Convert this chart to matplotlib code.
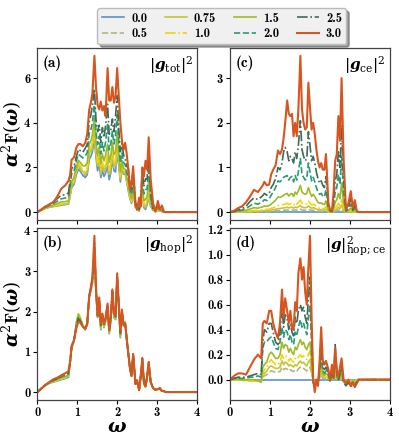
import matplotlib
matplotlib.use("Agg")
import matplotlib.pyplot as plt

plt.rcParams['font.family'] = 'cmb10'
plt.rcParams['mathtext.fontset'] = 'custom'
plt.rcParams['mathtext.rm'] = 'DejaVu Serif'
plt.rcParams['mathtext.bf'] = 'cmb10'
plt.rcParams['mathtext.it'] = 'DejaVu Serif:italic:bold'
plt.rcParams['mathtext.bfit'] = 'DejaVu Serif:italic:bold'
plt.rcParams['axes.unicode_minus'] = False

# grille en omega (commune aux 4 panneaux)
omega = [0.0, 0.1, 0.2, 0.3, 0.4, 0.5, 0.6, 0.7, 0.78, 0.82, 0.86, 0.92, 0.98,
         1.03, 1.08, 1.14, 1.2, 1.25, 1.3, 1.34, 1.38, 1.43, 1.47, 1.51, 1.55, 1.59,
         1.63, 1.67, 1.71, 1.76, 1.8, 1.84, 1.88, 1.92, 1.96, 2.0, 2.04, 2.08, 2.12,
         2.16, 2.2, 2.24, 2.28, 2.32, 2.36, 2.4, 2.46, 2.5, 2.55, 2.59, 2.63, 2.67,
         2.71, 2.75, 2.79, 2.84, 2.9, 2.96, 3.02, 3.07, 3.12, 3.17, 3.22, 3.3, 4.0]

lam_labels = ['0.0', '0.5', '0.75', '1.0', '1.5', '2.0', '2.5', '3.0']

# (a) |g_tot|^2
tot_00 = [0, 0.09, 0.17, 0.22, 0.25, 0.28, 0.31, 0.34, 0.37, 0.7, 1.1, 1.25, 1.7,
          1.92, 1.82, 1.65, 1.55, 1.68, 2.35, 2.5, 2.7, 3.3, 2.45, 1.85, 2.2, 1.55,
          1.85, 1.6, 1.75, 2.05, 1.45, 1.75, 2.4, 1.85, 1.8, 2.7, 2.1, 1.35, 1.95,
          1.7, 1.75, 1.35, 0.95, 0.6, 0.4, 0.9, 0.2, 0.25, 0.05, 0.4, 0.75, 0.2,
          0.12, 0.35, 0.65, 0.25, 0.1, 0.05, 0.07, 0.08, 0.03, 0.02, 0.0, 0.0, 0.0]
tot_05 = [0, 0.09, 0.17, 0.22, 0.26, 0.29, 0.33, 0.36, 0.38, 0.73, 1.15, 1.32, 1.78,
          2.02, 1.91, 1.74, 1.65, 1.78, 2.5, 2.64, 2.86, 3.49, 2.58, 1.99, 2.34, 1.68,
          1.99, 1.74, 1.91, 2.24, 1.61, 1.91, 2.55, 1.99, 1.97, 2.88, 2.21, 1.42, 1.99,
          1.73, 1.77, 1.37, 1.02, 0.63, 0.43, 0.94, 0.22, 0.26, 0.06, 0.41, 0.82, 0.23,
          0.18, 0.4, 0.74, 0.28, 0.09, 0.06, 0.07, 0.08, 0.03, 0.02, 0.0, 0.0, 0.0]
tot_075 = [0, 0.09, 0.17, 0.23, 0.27, 0.3, 0.34, 0.37, 0.41, 0.77, 1.2, 1.38, 1.86,
           2.11, 1.99, 1.81, 1.72, 1.86, 2.6, 2.75, 2.98, 3.64, 2.69, 2.09, 2.46, 1.77,
           2.11, 1.84, 2.03, 2.39, 1.72, 2.03, 2.66, 2.1, 2.11, 3.03, 2.29, 1.47, 2.04,
           1.76, 1.79, 1.4, 1.07, 0.67, 0.46, 1.0, 0.22, 0.27, 0.06, 0.42, 0.88, 0.29,
           0.24, 0.46, 0.85, 0.3, 0.09, 0.06, 0.08, 0.08, 0.03, 0.02, 0.0, 0.0, 0.0]
tot_10 = [0, 0.09, 0.18, 0.24, 0.28, 0.32, 0.37, 0.4, 0.43, 0.81, 1.26, 1.44, 1.95,
          2.21, 2.08, 1.89, 1.82, 1.98, 2.73, 2.88, 3.13, 3.83, 2.82, 2.23, 2.6, 1.9,
          2.26, 1.98, 2.19, 2.57, 1.87, 2.17, 2.81, 2.25, 2.29, 3.21, 2.4, 1.57, 2.11,
          1.82, 1.82, 1.45, 1.14, 0.71, 0.5, 1.07, 0.24, 0.28, 0.07, 0.44, 0.96, 0.35,
          0.33, 0.52, 1.01, 0.34, 0.08, 0.06, 0.09, 0.09, 0.03, 0.01, 0.0, 0.0, 0.0]
tot_15 = [0, 0.1, 0.19, 0.26, 0.32, 0.38, 0.46, 0.47, 0.51, 0.94, 1.38, 1.55, 2.05,
          2.32, 2.22, 2.08, 2.07, 2.22, 3.03, 3.18, 3.46, 4.19, 3.1, 2.53, 2.92, 2.17,
          2.61, 2.3, 2.56, 3.04, 2.23, 2.53, 3.14, 2.58, 2.68, 3.57, 2.66, 1.8, 2.31,
          1.96, 1.92, 1.56, 1.3, 0.83, 0.6, 1.23, 0.28, 0.29, 0.09, 0.48, 1.14, 0.52,
          0.56, 0.7, 1.4, 0.45, 0.08, 0.08, 0.13, 0.1, 0.05, 0.02, 0.0, 0.0, 0.0]
tot_20 = [0, 0.11, 0.22, 0.3, 0.38, 0.49, 0.6, 0.63, 0.69, 1.22, 1.71, 1.85, 2.3,
          2.59, 2.52, 2.43, 2.51, 2.67, 3.52, 3.68, 4.0, 4.8, 3.59, 3.03, 3.4, 2.61,
          3.12, 2.74, 3.14, 3.93, 2.79, 3.06, 3.62, 3.05, 3.47, 4.36, 3.17, 2.21, 2.65,
          2.22, 2.13, 1.78, 1.59, 1.03, 0.79, 1.51, 0.34, 0.3, 0.11, 0.56, 1.47, 0.82,
          0.99, 1.05, 2.06, 0.68, 0.08, 0.12, 0.21, 0.11, 0.09, 0.02, 0.0, 0.0, 0.0]
tot_25 = [0, 0.12, 0.25, 0.34, 0.45, 0.61, 0.76, 0.78, 0.86, 1.41, 1.96, 2.06, 2.5,
          2.82, 2.75, 2.68, 2.86, 3.03, 4.07, 4.35, 4.79, 5.53, 4.13, 3.6, 3.9, 3.13,
          3.79, 3.34, 3.89, 4.83, 3.49, 3.67, 4.17, 3.6, 4.33, 5.22, 3.74, 2.71, 3.08,
          2.56, 2.41, 2.05, 1.95, 1.3, 1.03, 1.85, 0.4, 0.32, 0.15, 0.67, 1.82, 1.15,
          1.5, 1.46, 2.6, 0.98, 0.08, 0.16, 0.32, 0.13, 0.15, 0.03, 0.0, 0.0, 0.0]
tot_30 = [0, 0.12, 0.25, 0.35, 0.45, 0.7, 1.05, 1.2, 1.4, 1.65, 2.35, 2.45, 2.9,
          3.05, 3.05, 2.95, 3.1, 3.5, 4.6, 4.9, 5.3, 7.0, 5.6, 4.8, 4.6, 4.95,
          4.55, 4.75, 4.3, 6.45, 5.0, 5.0, 5.6, 4.9, 5.2, 6.45, 5.2, 4.0, 3.2,
          2.8, 3.1, 2.6, 1.9, 1.0, 1.3, 2.05, 0.3, 0.1, 0.65, 0.25, 2.0, 1.6,
          2.3, 1.9, 3.35, 1.45, 0.4, 0.02, 0.5, 0.1, 0.3, 0.02, 0.0, 0.0, 0.0]

# (b) |g_hop|^2
hop_00 = [0, 0.09, 0.17, 0.22, 0.25, 0.28, 0.31, 0.34, 0.37, 0.7, 1.1, 1.25, 1.7,
          1.92, 1.82, 1.65, 1.55, 1.68, 2.35, 2.5, 2.7, 3.3, 2.45, 1.85, 2.2, 1.55,
          1.85, 1.6, 1.75, 2.05, 1.45, 1.75, 2.4, 1.85, 1.8, 2.7, 2.1, 1.35, 1.95,
          1.7, 1.75, 1.35, 0.95, 0.6, 0.4, 0.9, 0.2, 0.25, 0.05, 0.4, 0.75, 0.2,
          0.12, 0.35, 0.65, 0.25, 0.1, 0.05, 0.07, 0.08, 0.03, 0.02, 0.0, 0.0, 0.0]
hop_05 = [0, 0.09, 0.17, 0.22, 0.26, 0.29, 0.32, 0.35, 0.38, 0.7, 1.1, 1.26, 1.7,
          1.93, 1.82, 1.65, 1.55, 1.68, 2.36, 2.52, 2.72, 3.35, 2.47, 1.86, 2.22, 1.57,
          1.86, 1.62, 1.77, 2.07, 1.47, 1.77, 2.42, 1.87, 1.82, 2.73, 2.12, 1.37, 1.96,
          1.7, 1.74, 1.34, 0.95, 0.6, 0.4, 0.9, 0.2, 0.26, 0.05, 0.4, 0.76, 0.2,
          0.13, 0.36, 0.66, 0.25, 0.1, 0.05, 0.07, 0.08, 0.03, 0.02, 0.0, 0.0, 0.0]
hop_075 = [0, 0.09, 0.17, 0.23, 0.26, 0.29, 0.33, 0.36, 0.39, 0.71, 1.11, 1.27, 1.72,
           1.95, 1.83, 1.65, 1.55, 1.68, 2.36, 2.53, 2.74, 3.4, 2.48, 1.86, 2.24, 1.58,
           1.87, 1.63, 1.78, 2.09, 1.48, 1.78, 2.44, 1.88, 1.83, 2.76, 2.13, 1.38, 1.97,
           1.69, 1.74, 1.33, 0.95, 0.6, 0.4, 0.91, 0.2, 0.26, 0.05, 0.4, 0.77, 0.21,
           0.13, 0.37, 0.67, 0.25, 0.1, 0.05, 0.07, 0.08, 0.03, 0.02, 0.0, 0.0, 0.0]
hop_10 = [0, 0.09, 0.17, 0.23, 0.27, 0.3, 0.34, 0.37, 0.4, 0.71, 1.12, 1.28, 1.74,
          1.97, 1.84, 1.65, 1.55, 1.69, 2.37, 2.54, 2.76, 3.45, 2.5, 1.87, 2.25, 1.6,
          1.88, 1.64, 1.79, 2.1, 1.49, 1.79, 2.46, 1.9, 1.84, 2.78, 2.14, 1.4, 1.98,
          1.69, 1.73, 1.33, 0.95, 0.6, 0.4, 0.92, 0.2, 0.27, 0.05, 0.4, 0.78, 0.21,
          0.13, 0.37, 0.68, 0.25, 0.1, 0.05, 0.07, 0.09, 0.03, 0.02, 0.0, 0.0, 0.0]
hop_15 = [0, 0.09, 0.17, 0.23, 0.28, 0.31, 0.36, 0.39, 0.42, 0.72, 1.12, 1.28, 1.7,
          1.92, 1.8, 1.64, 1.56, 1.69, 2.38, 2.55, 2.78, 3.5, 2.52, 1.88, 2.28, 1.62,
          1.9, 1.66, 1.8, 2.12, 1.5, 1.81, 2.48, 1.92, 1.85, 2.82, 2.16, 1.42, 2.0,
          1.68, 1.72, 1.32, 0.95, 0.6, 0.4, 0.93, 0.2, 0.28, 0.05, 0.4, 0.8, 0.22,
          0.14, 0.38, 0.7, 0.25, 0.1, 0.05, 0.07, 0.09, 0.03, 0.02, 0.0, 0.0, 0.0]
hop_20 = [0, 0.09, 0.18, 0.24, 0.29, 0.33, 0.38, 0.42, 0.45, 0.73, 1.13, 1.29, 1.67,
          1.87, 1.77, 1.63, 1.57, 1.69, 2.38, 2.56, 2.8, 3.6, 2.55, 1.89, 2.3, 1.65,
          1.92, 1.67, 1.82, 2.15, 1.52, 1.83, 2.5, 1.94, 1.87, 2.86, 2.17, 1.45, 2.02,
          1.67, 1.71, 1.31, 0.95, 0.6, 0.4, 0.94, 0.2, 0.28, 0.05, 0.4, 0.82, 0.23,
          0.14, 0.39, 0.72, 0.25, 0.1, 0.06, 0.08, 0.09, 0.03, 0.03, 0.0, 0.0, 0.0]
hop_25 = [0, 0.09, 0.18, 0.24, 0.3, 0.34, 0.4, 0.45, 0.48, 0.74, 1.14, 1.3, 1.63,
          1.82, 1.75, 1.63, 1.58, 1.7, 2.39, 2.58, 2.82, 3.7, 2.58, 1.9, 2.32, 1.68,
          1.94, 1.69, 1.84, 2.18, 1.54, 1.84, 2.52, 1.95, 1.88, 2.9, 2.19, 1.48, 2.04,
          1.66, 1.7, 1.3, 0.95, 0.6, 0.4, 0.95, 0.2, 0.29, 0.05, 0.4, 0.84, 0.24,
          0.15, 0.4, 0.74, 0.25, 0.1, 0.06, 0.08, 0.1, 0.03, 0.03, 0.0, 0.0, 0.0]
hop_30 = [0, 0.09, 0.18, 0.25, 0.32, 0.36, 0.42, 0.47, 0.52, 0.75, 1.15, 1.3, 1.6,
          1.75, 1.72, 1.62, 1.58, 1.7, 2.4, 2.6, 2.85, 3.88, 2.6, 1.9, 2.35, 1.7,
          1.95, 1.7, 1.85, 2.2, 1.55, 1.85, 2.55, 1.95, 1.9, 2.95, 2.2, 1.5, 2.05,
          1.65, 1.7, 1.3, 0.95, 0.6, 0.4, 0.95, 0.2, 0.3, 0.05, 0.4, 0.85, 0.25,
          0.15, 0.4, 0.75, 0.25, 0.1, 0.06, 0.08, 0.1, 0.03, 0.03, 0.0, 0.0, 0.0]

# (c) |g_ce|^2
ce_00 = [0.0] * len(omega)
ce_05 = [0, 0, 0, 0.0, 0.005, 0.007, 0.01, 0.01, 0.012, 0.013, 0.015, 0.015, 0.018,
         0.02, 0.025, 0.03, 0.035, 0.035, 0.04, 0.042, 0.045, 0.05, 0.042, 0.047, 0.05, 0.04,
         0.052, 0.045, 0.055, 0.068, 0.05, 0.047, 0.045, 0.047, 0.062, 0.05, 0.04, 0.045, 0.04,
         0.032, 0.025, 0.022, 0.025, 0.02, 0.02, 0.03, 0.005, 0.0, 0.0, 0.01, 0.025, 0.032,
         0.05, 0.035, 0.07, 0.025, 0.0, 0.005, 0.01, 0.0, 0.005, 0.0, 0, 0, 0]
ce_075 = [0, 0, 0.0, 0.005, 0.01, 0.015, 0.02, 0.02, 0.03, 0.03, 0.035, 0.035, 0.04,
          0.045, 0.055, 0.065, 0.08, 0.08, 0.09, 0.095, 0.1, 0.11, 0.095, 0.105, 0.11, 0.09,
          0.115, 0.1, 0.12, 0.15, 0.11, 0.105, 0.1, 0.105, 0.14, 0.11, 0.09, 0.1, 0.09,
          0.07, 0.055, 0.05, 0.055, 0.045, 0.045, 0.065, 0.01, 0.005, 0.0, 0.02, 0.055, 0.07,
          0.11, 0.08, 0.16, 0.055, 0.0, 0.01, 0.02, 0.005, 0.01, 0.0, 0, 0, 0]
ce_10 = [0, 0.0, 0.005, 0.01, 0.015, 0.03, 0.04, 0.04, 0.05, 0.05, 0.06, 0.06, 0.07,
         0.08, 0.1, 0.12, 0.15, 0.15, 0.16, 0.17, 0.18, 0.2, 0.17, 0.19, 0.2, 0.16,
         0.21, 0.18, 0.22, 0.27, 0.2, 0.19, 0.18, 0.19, 0.25, 0.2, 0.16, 0.18, 0.16,
         0.13, 0.1, 0.09, 0.1, 0.08, 0.08, 0.12, 0.02, 0.01, 0.0, 0.04, 0.1, 0.13,
         0.2, 0.14, 0.3, 0.1, 0.0, 0.02, 0.04, 0.01, 0.02, 0.0, 0, 0, 0]
ce_15 = [0, 0.005, 0.015, 0.025, 0.04, 0.07, 0.1, 0.09, 0.11, 0.12, 0.14, 0.13, 0.15,
         0.18, 0.22, 0.27, 0.34, 0.33, 0.35, 0.38, 0.4, 0.42, 0.36, 0.4, 0.42, 0.35,
         0.45, 0.4, 0.48, 0.6, 0.45, 0.42, 0.4, 0.42, 0.55, 0.45, 0.35, 0.4, 0.35,
         0.28, 0.22, 0.2, 0.21, 0.18, 0.17, 0.25, 0.05, 0.015, 0.005, 0.08, 0.22, 0.28,
         0.42, 0.3, 0.65, 0.22, 0.01, 0.04, 0.09, 0.02, 0.05, 0.005, 0, 0, 0]
ce_20 = [0, 0.01, 0.03, 0.05, 0.08, 0.14, 0.2, 0.18, 0.22, 0.24, 0.28, 0.26, 0.3,
         0.38, 0.45, 0.55, 0.7, 0.68, 0.72, 0.78, 0.8, 0.82, 0.72, 0.78, 0.8, 0.68,
         0.82, 0.72, 0.9, 1.2, 0.85, 0.78, 0.72, 0.75, 1.1, 0.9, 0.7, 0.78, 0.68,
         0.55, 0.45, 0.4, 0.42, 0.36, 0.34, 0.5, 0.1, 0.03, 0.01, 0.15, 0.45, 0.55,
         0.85, 0.62, 1.25, 0.45, 0.02, 0.08, 0.18, 0.04, 0.1, 0.01, 0, 0, 0]
ce_25 = [0, 0.02, 0.05, 0.08, 0.13, 0.24, 0.32, 0.28, 0.34, 0.37, 0.42, 0.38, 0.42,
         0.55, 0.62, 0.75, 1.0, 0.95, 1.1, 1.35, 1.45, 1.35, 1.15, 1.25, 1.2, 1.1,
         1.35, 1.2, 1.5, 2.05, 1.4, 1.25, 1.15, 1.2, 1.8, 1.5, 1.15, 1.25, 1.1,
         0.9, 0.75, 0.65, 0.7, 0.6, 0.55, 0.8, 0.15, 0.04, 0.02, 0.25, 0.7, 0.85,
         1.35, 1.0, 1.95, 0.75, 0.03, 0.12, 0.3, 0.06, 0.17, 0.02, 0.0, 0.0, 0.0]
ce_30 = [0, 0.03, 0.09, 0.13, 0.22, 0.35, 0.5, 0.45, 0.55, 0.6, 0.68, 0.6, 0.62,
         0.85, 0.95, 1.05, 1.38, 1.3, 1.4, 1.65, 2.0, 2.5, 2.2, 2.15, 2.2, 1.7,
         2.0, 1.7, 2.3, 3.5, 2.3, 2.0, 1.85, 1.9, 2.9, 2.35, 1.85, 2.0, 1.75,
         1.4, 1.15, 1.0, 1.1, 0.95, 0.95, 1.3, 0.2, 0.06, 0.03, 0.45, 1.15, 1.3,
         2.15, 1.6, 3.0, 1.2, 0.05, 0.2, 0.47, 0.1, 0.27, 0.03, 0.0, 0.0, 0.0]

# (d) |g|^2_hop;ce
hc_00 = [0.0] * len(omega)
hc_05 = [0, 0, 0, 0, -0.005, -0.005, -0.005, -0.005, -0.01, 0.02, 0.03, 0.04, 0.06,
         0.07, 0.065, 0.06, 0.06, 0.065, 0.1, 0.08, 0.09, 0.085, 0.07, 0.08, 0.07, 0.065,
         0.08, 0.07, 0.085, 0.1, 0.085, 0.09, 0.08, 0.07, 0.09, 0.1, 0.05, 0.0, -0.01,
         0.0, 0.0, 0.01, 0.04, 0.01, 0.01, 0.01, 0.01, 0.0, 0.01, 0.0, 0.03, 0.0,
         0.0, 0.0, 0.01, 0.0, -0.01, 0.0, -0.01, 0.0, -0.01, 0.0, 0, 0, 0]
hc_075 = [0, 0.0, 0.0, -0.005, -0.005, -0.01, -0.01, -0.01, -0.015, 0.03, 0.05, 0.07, 0.1,
          0.11, 0.1, 0.09, 0.09, 0.1, 0.15, 0.12, 0.14, 0.13, 0.11, 0.12, 0.11, 0.1,
          0.12, 0.11, 0.13, 0.15, 0.13, 0.14, 0.12, 0.11, 0.14, 0.16, 0.07, -0.01, -0.02,
          0.0, -0.01, 0.02, 0.06, 0.02, 0.01, 0.02, 0.01, 0.0, 0.01, 0.0, 0.05, 0.01,
          0.0, 0.01, 0.02, -0.01, -0.01, 0.0, -0.01, -0.01, -0.01, 0.0, 0, 0, 0]
hc_10 = [0, 0.0, 0.0, -0.005, -0.01, -0.01, -0.01, -0.015, -0.02, 0.05, 0.08, 0.1, 0.14,
         0.16, 0.14, 0.12, 0.12, 0.14, 0.2, 0.17, 0.19, 0.18, 0.15, 0.17, 0.15, 0.14,
         0.17, 0.16, 0.18, 0.2, 0.18, 0.19, 0.17, 0.16, 0.2, 0.23, 0.1, -0.01, -0.03,
         0.0, -0.01, 0.03, 0.09, 0.03, 0.02, 0.03, 0.02, 0.0, 0.02, 0.0, 0.08, 0.01,
         0.0, 0.01, 0.03, -0.01, -0.02, -0.01, -0.02, -0.01, -0.02, -0.01, 0, 0, 0]
hc_15 = [0, 0.005, 0.005, 0.0, 0.0, 0.0, 0.0, -0.01, -0.02, 0.1, 0.12, 0.14, 0.2,
         0.22, 0.2, 0.17, 0.17, 0.2, 0.3, 0.25, 0.28, 0.27, 0.22, 0.25, 0.22, 0.2,
         0.26, 0.24, 0.28, 0.32, 0.28, 0.3, 0.26, 0.24, 0.28, 0.3, 0.15, -0.02, -0.04,
         0.0, -0.02, 0.04, 0.14, 0.05, 0.03, 0.05, 0.03, -0.01, 0.03, 0.0, 0.12, 0.02,
         0.0, 0.02, 0.05, -0.02, -0.03, -0.01, -0.03, -0.01, -0.03, -0.01, 0, 0, 0]
hc_20 = [0, 0.01, 0.01, 0.01, 0.01, 0.02, 0.02, 0.03, 0.02, 0.25, 0.3, 0.3, 0.33,
         0.34, 0.3, 0.25, 0.24, 0.3, 0.42, 0.34, 0.4, 0.38, 0.32, 0.36, 0.3, 0.28,
         0.38, 0.35, 0.42, 0.48, 0.42, 0.45, 0.4, 0.36, 0.5, 0.6, 0.3, -0.02, -0.05,
         0.0, -0.03, 0.07, 0.22, 0.07, 0.05, 0.07, 0.04, -0.01, 0.05, 0.01, 0.2, 0.04,
         0.0, 0.04, 0.09, -0.02, -0.04, -0.02, -0.05, -0.02, -0.04, -0.02, 0, 0, 0]
hc_25 = [0, 0.01, 0.02, 0.02, 0.02, 0.03, 0.04, 0.05, 0.04, 0.3, 0.4, 0.38, 0.45,
         0.45, 0.38, 0.3, 0.28, 0.38, 0.58, 0.42, 0.52, 0.48, 0.4, 0.45, 0.38, 0.35,
         0.5, 0.45, 0.55, 0.6, 0.55, 0.58, 0.5, 0.45, 0.65, 0.82, 0.4, -0.02, -0.06,
         0.0, -0.04, 0.1, 0.3, 0.1, 0.08, 0.1, 0.05, -0.01, 0.08, 0.02, 0.28, 0.06,
         0.0, 0.06, 0.12, -0.02, -0.05, -0.02, -0.06, -0.03, -0.05, -0.02, 0.0, 0.0, 0.0]
hc_30 = [0, 0.03, 0.05, 0.05, 0.04, 0.1, 0.16, 0.2, 0.17, 0.45, 0.47, 0.45, 0.55,
         0.55, 0.45, 0.38, 0.33, 0.45, 0.72, 0.5, 0.65, 0.55, 0.45, 0.55, 0.42, 0.4,
         0.62, 0.55, 0.85, 0.97, 0.8, 0.9, 0.7, 0.6, 0.9, 1.15, 0.5, 0.0, -0.1,
         0.0, -0.05, 0.15, 0.42, 0.15, 0.12, 0.15, 0.08, 0.0, 0.12, 0.02, 0.25, 0.08,
         0.02, 0.1, 0.17, 0.0, -0.03, 0.0, -0.05, -0.02, -0.06, -0.03, 0.0, 0.0, 0.0]

panel_a = [tot_00, tot_05, tot_075, tot_10, tot_15, tot_20, tot_25, tot_30]
panel_b = [hop_00, hop_05, hop_075, hop_10, hop_15, hop_20, hop_25, hop_30]
panel_c = [ce_00, ce_05, ce_075, ce_10, ce_15, ce_20, ce_25, ce_30]
panel_d = [hc_00, hc_05, hc_075, hc_10, hc_15, hc_20, hc_25, hc_30]

couleurs = ['#5b93c9', '#b5b57c', '#c6c43a', '#f2d40a', '#9fb928', '#2a9a78', '#3f6b57', '#d9551f']
styles = ['-', '--', '-', '-.', '-', '--', '-.', '-']

fig = plt.figure(figsize=(3.99, 4.37), dpi=100)
ax_a = fig.add_axes([0.0935, 0.4966, 0.4003, 0.3936])
ax_c = fig.add_axes([0.5764, 0.4966, 0.401, 0.3936])
ax_b = fig.add_axes([0.0935, 0.0847, 0.4003, 0.3936])
ax_d = fig.add_axes([0.5764, 0.0847, 0.401, 0.3936])

panneaux = [
    (ax_a, panel_a, '(a)', r'$|\mathbfit{g}_{\mathrm{tot}}|^2$', [0, 2, 4, 6]),
    (ax_b, panel_b, '(b)', r'$|\mathbfit{g}_{\mathrm{hop}}|^2$', [0, 1, 2, 3, 4]),
    (ax_c, panel_c, '(c)', r'$|\mathbfit{g}_{\mathrm{ce}}|^2$', [0, 1, 2, 3]),
    (ax_d, panel_d, '(d)', r'$|\mathbfit{g}|^2_{\mathrm{hop;ce}}$', [0.0, 0.2, 0.4, 0.6, 0.8, 1.0, 1.2]),
]

for ax, courbes, lettre, tag, yt in panneaux:
    for y, lab, c, ls in zip(courbes, lam_labels, couleurs, styles):
        lw = 1.5 if lab == '3.0' else 1.2
        ax.plot(omega, y, color=c, ls=ls, lw=lw, label=lab)
    ax.set_xlim(0, 4)
    ax.set_xticks([0, 1, 2, 3, 4])
    ax.set_yticks(yt)
    if ax is ax_d:
        ax.set_yticklabels(['%.1f' % v for v in yt])
    ax.tick_params(labelsize=9, length=3, width=0.8, pad=2)
    for s in ax.spines.values():
        s.set_color('#444444')
        s.set_linewidth(0.9)
    ax.text(0.035, 0.955, lettre, transform=ax.transAxes, ha='left', va='top', fontsize=11)
    ax.text(0.975, 0.965, tag, transform=ax.transAxes, ha='right', va='top', fontsize=11)

ax_a.tick_params(labelbottom=False)
ax_c.tick_params(labelbottom=False)
ax_a.set_ylabel(r'$\alpha^2\mathbf{F}(\omega)$', fontsize=13, labelpad=0)
ax_b.set_ylabel(r'$\alpha^2\mathbf{F}(\omega)$', fontsize=13, labelpad=0)
ax_b.set_xlabel(r'$\omega$', fontsize=14, labelpad=-1)
ax_d.set_xlabel(r'$\omega$', fontsize=14, labelpad=-1)

handles, labels = ax_a.get_legend_handles_labels()
leg = fig.legend(handles, labels, loc='upper center', bbox_to_anchor=(0.556, 0.995),
                 ncol=4, fontsize=9, shadow=True, fancybox=True, framealpha=1,
                 columnspacing=1.4, handlelength=1.8, handletextpad=0.55,
                 borderpad=0.35, labelspacing=0.25)
leg.get_frame().set_facecolor('#f0f0f0')
leg.get_frame().set_edgecolor('#bbbbbb')

fig.savefig('out.png', dpi=100)
